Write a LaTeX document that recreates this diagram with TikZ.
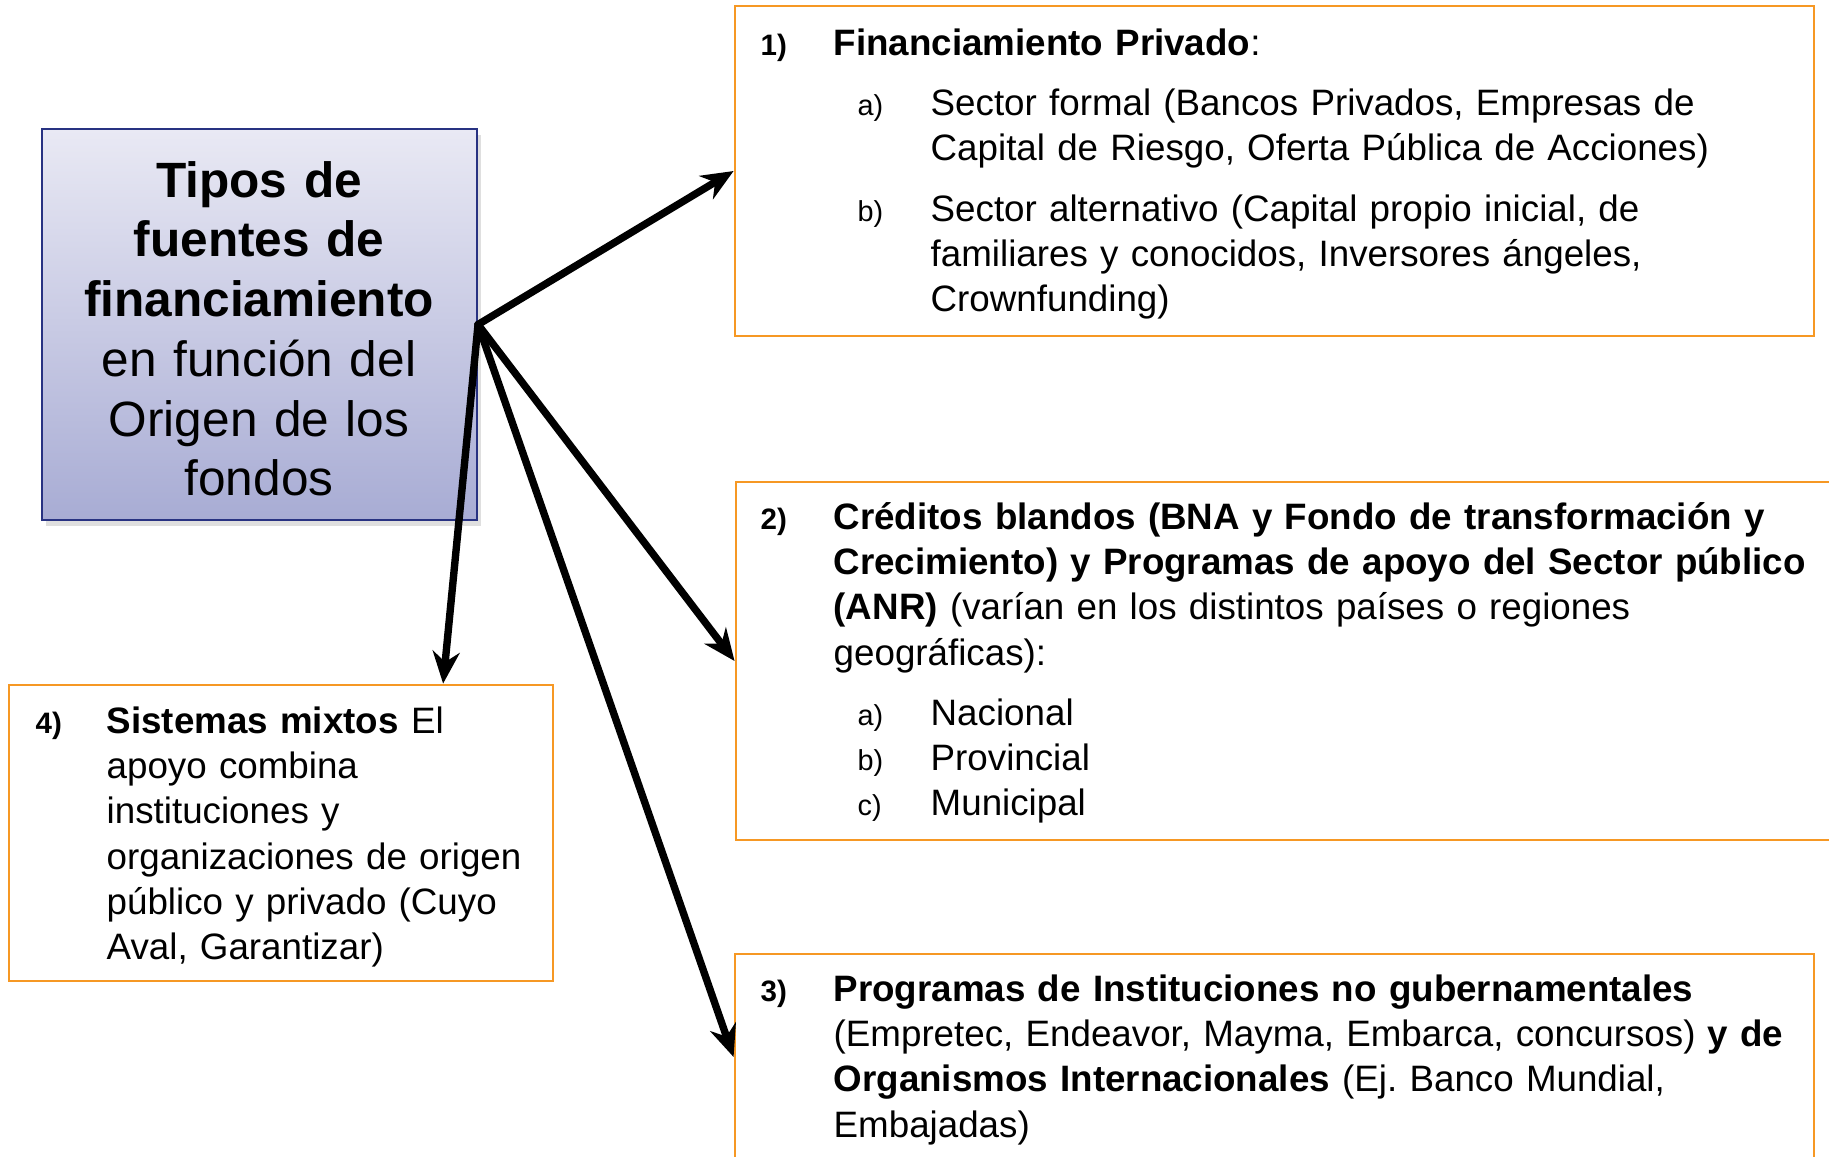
\documentclass[tikz,border=0pt]{standalone}
\usepackage{fontspec}
\setmainfont{Liberation Sans}
\usetikzlibrary{arrows.meta,positioning,fit,shadows}
\frenchspacing

\definecolor{boxorange}{RGB}{246,152,36}
\definecolor{boxnavy}{RGB}{40,50,130}
\definecolor{boxtop}{RGB}{233,233,244}
\definecolor{boxbot}{RGB}{168,172,212}

\newcommand{\bodyfont}{\fontsize{10.45}{12.9}\selectfont}
\newcommand{\titlefont}{\fontsize{14.1}{17}\selectfont}
\newcommand{\numfont}{\fontsize{8.4}{12.9}\selectfont\bfseries}
\newcommand{\subfont}{\fontsize{8.2}{12.9}\selectfont}

\begin{document}
\begin{tikzpicture}[
    x=0.01cm, y=-0.01cm,
    inner sep=0pt, %boxes are fitted to their corners
    mainbox/.style={draw=boxnavy, line width=0.6pt,
        top color=boxtop, bottom color=boxbot,
        drop shadow={shadow xshift=0.4mm, shadow yshift=-0.6mm, opacity=0.25}},
    orbox/.style={draw=boxorange, line width=0.8pt},
    txt/.style={anchor=base west, align=left, font=\bodyfont, text width=#1},
    txt/.default=10cm,
    numlbl/.style={anchor=base west, font=\numfont},
    sublbl/.style={anchor=base west, align=left, font=\subfont, text width=0.5cm},
    link/.style={->, line width=2.1pt, line cap=round},
    >={Stealth[length=3.2mm, width=2.7mm]},
    ]

    \clip (0,0) rectangle (1829,1156);

    %central box
    \node[mainbox, fit={(42,129) (477,520)}] (main) {};
    \node[anchor=base, align=center, text width=4.2cm, font=\titlefont] (title) at (259,197)
        {\textbf{Tipos de}\\ \textbf{fuentes de}\\ \textbf{financiamiento}\\
         en función del\\ Origen de los\\ fondos};

    %boxes
    \node[orbox, fit={(735,6) (1814,336)}] (box1) {};
    \node[orbox, fit={(736,482) (1840,840)}] (box2) {};
    \node[orbox, fit={(735,954) (1814,1160)}] (box3) {};
    \node[orbox, fit={(9,685) (553,981)}] (box4) {};

    %1) private
    \node[numlbl] (n1) at (760,55) {1)};
    \node[txt] (t1) at (833,55) {\textbf{Financiamiento Privado}:};
    \node[sublbl] (s1a) at (857,115) {a)};
    \node[txt] (t1a) at (930,115) {Sector formal (Bancos Privados, Empresas de\\
        Capital de Riesgo, Oferta Pública de Acciones)};
    \node[sublbl] (s1b) at (857,221) {b)};
    \node[txt] (t1b) at (930,221) {Sector alternativo (Capital propio inicial, de\\
        familiares y conocidos, Inversores ángeles,\\ Crownfunding)};

    %2) soft credits
    \node[numlbl] (n2) at (760,529) {2)};
    \node[txt] (t2) at (833,529) {\textbf{Créditos blandos (BNA y Fondo de transformación y}\\
        \textbf{Crecimiento) y Programas de apoyo del Sector público}\\
        \textbf{(ANR)} (varían en los distintos países o regiones\\ geográficas):};
    \node[sublbl] (s2) at (857,725) {a)\\ b)\\ c)};
    \node[txt] (t2a) at (930,725) {Nacional\\ Provincial\\ Municipal};

    %3) NGOs
    \node[numlbl] (n3) at (760,1001) {3)};
    \node[txt] (t3) at (833,1001) {\textbf{Programas de Instituciones no gubernamentales}\\
        (Empretec, Endeavor, Mayma, Embarca, concursos) \textbf{y de}\\
        \textbf{Organismos Internacionales} (Ej. Banco Mundial,\\ Embajadas)};

    %4) mixed
    \node[numlbl] (n4) at (35,733) {4)};
    \node[txt=4.4cm] (t4) at (106,733) {\textbf{Sistemas mixtos} El\\ apoyo combina\\
        instituciones y\\ organizaciones de origen\\ público y privado (Cuyo\\ Aval, Garantizar)};

    %arrows
    \draw[link] (main.east) -- (box1.west);
    \draw[link] (main.east) -- (box2.west);
    \draw[link] (main.east) -- (box3.west);
    \draw[link] (main.east) -- ([xshift=1.62cm]box4.north);

\end{tikzpicture}
\end{document}
